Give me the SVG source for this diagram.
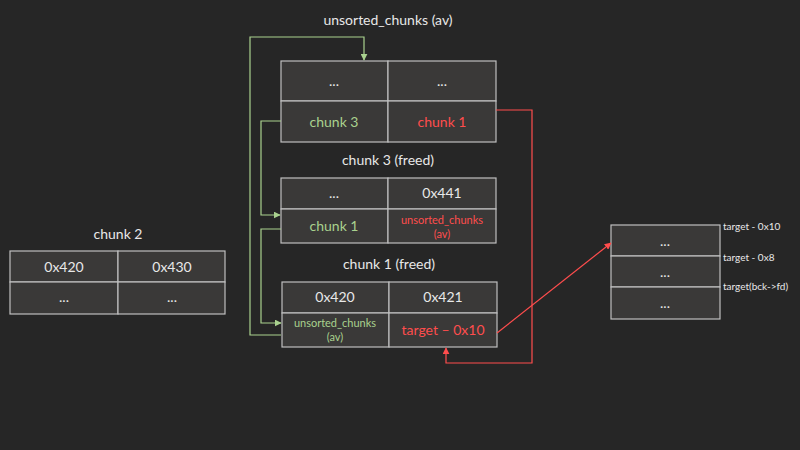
<svg xmlns="http://www.w3.org/2000/svg" width="800" height="450" viewBox="0 0 800 450">
<defs>
<style>
.bg{fill:#262626}
.cell{fill:#3a3938;stroke:#bfbfbf;stroke-width:1.2}
.t{font-family:Lato,"Open Sans",sans-serif;font-size:14px;fill:#e8e8e8;text-anchor:middle}
.s{font-family:Lato,"Open Sans",sans-serif;font-size:11px;text-anchor:middle}
.lbl{font-family:Lato,"Open Sans",sans-serif;font-size:10px;fill:#e8e8e8}
.g{fill:#a9d18e}
.r{fill:#ff4d4d}
.gl{fill:none;stroke:#a9d18e;stroke-width:1.2}
.rl{fill:none;stroke:#ff4d4d;stroke-width:1.2}
</style>
<marker id="ag" viewBox="0 0 10 10" refX="9" refY="5" markerWidth="7" markerHeight="7" orient="auto" markerUnits="userSpaceOnUse"><path d="M0,0L10,5L0,10z" fill="#a9d18e"/></marker>
<marker id="ar" viewBox="0 0 10 10" refX="9" refY="5" markerWidth="7" markerHeight="7" orient="auto" markerUnits="userSpaceOnUse"><path d="M0,0L10,5L0,10z" fill="#ff4d4d"/></marker>
</defs>
<rect class="bg" x="0" y="0" width="800" height="450"/>

<g id="av">
<text class="t" x="388" y="25">unsorted_chunks (av)</text>
<rect class="cell" x="281" y="61" width="107" height="40"/>
<rect class="cell" x="388" y="61" width="108" height="40"/>
<rect class="cell" x="281" y="101" width="107" height="41"/>
<rect class="cell" x="388" y="101" width="108" height="41"/>
<text class="t" x="334" y="86">...</text>
<text class="t" x="442" y="86">...</text>
<text class="t g" x="334" y="127">chunk 3</text>
<text class="t r" x="442" y="127">chunk 1</text>
</g>

<g id="chunk3">
<text class="t" x="388" y="165">chunk 3 (freed)</text>
<rect class="cell" x="281" y="178" width="107" height="31"/>
<rect class="cell" x="388" y="178" width="108" height="31"/>
<rect class="cell" x="281" y="209" width="107" height="34"/>
<rect class="cell" x="388" y="209" width="108" height="34"/>
<text class="t" x="334" y="198">...</text>
<text class="t" x="442" y="198">0x441</text>
<text class="t g" x="334" y="231">chunk 1</text>
<text class="s r" x="442" y="224">unsorted_chunks</text>
<text class="s r" x="442" y="238">(av)</text>
</g>

<g id="chunk1">
<text class="t" x="389" y="269">chunk 1 (freed)</text>
<rect class="cell" x="282" y="282" width="107" height="31"/>
<rect class="cell" x="389" y="282" width="108" height="31"/>
<rect class="cell" x="282" y="313" width="107" height="34"/>
<rect class="cell" x="389" y="313" width="108" height="34"/>
<text class="t" x="335" y="302">0x420</text>
<text class="t" x="443" y="302">0x421</text>
<text class="s g" x="335" y="327">unsorted_chunks</text>
<text class="s g" x="335" y="341">(av)</text>
<text class="t r" x="443" y="335">target – 0x10</text>
</g>

<g id="chunk2">
<text class="t" x="118" y="239">chunk 2</text>
<rect class="cell" x="10" y="251" width="108" height="31"/>
<rect class="cell" x="118" y="251" width="107" height="31"/>
<rect class="cell" x="10" y="282" width="108" height="32"/>
<rect class="cell" x="118" y="282" width="107" height="32"/>
<text class="t" x="64" y="272">0x420</text>
<text class="t" x="172" y="272">0x430</text>
<text class="t" x="64" y="302">...</text>
<text class="t" x="172" y="302">...</text>
</g>

<g id="target">
<rect class="cell" x="611" y="225" width="109" height="31"/>
<rect class="cell" x="611" y="256" width="109" height="31"/>
<rect class="cell" x="611" y="287" width="109" height="32"/>
<text class="t" x="665" y="246">...</text>
<text class="t" x="665" y="277">...</text>
<text class="t" x="665" y="308">...</text>
<text class="lbl" x="723" y="230">target - 0x10</text>
<text class="lbl" x="723" y="261">target - 0x8</text>
<text class="lbl" x="723" y="290">target(bck-&gt;fd)</text>
</g>

<g id="connectors">
<polyline class="gl" points="281,335 250,335 250,37 364,37 364,60" marker-end="url(#ag)"/>
<polyline class="gl" points="281,121 261,121 261,215 280,215" marker-end="url(#ag)"/>
<polyline class="gl" points="281,229 261,229 261,323 281,323" marker-end="url(#ag)"/>
<polyline class="rl" points="496,110 532,110 532,363 446,363 446,348" marker-end="url(#ar)"/>
<line class="rl" x1="497" y1="333" x2="611" y2="243" marker-end="url(#ar)"/>
</g>
</svg>
